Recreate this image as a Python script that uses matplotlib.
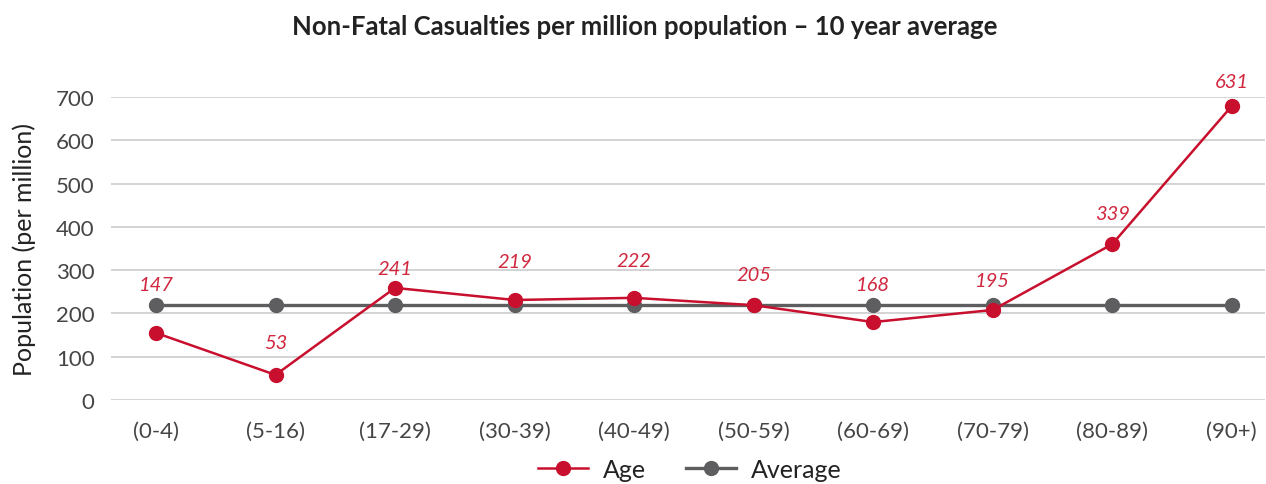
import matplotlib
matplotlib.use("Agg")
import matplotlib.pyplot as plt

plt.rcParams['font.family'] = ['Lato', 'DejaVu Sans']

# age bands and values
age_bands = ['(0-4)', '(5-16)', '(17-29)', '(30-39)', '(40-49)',
             '(50-59)', '(60-69)', '(70-79)', '(80-89)', '(90+)']
age_values = [155, 58, 259, 231, 236, 219, 180, 208, 360, 679]
average_values = [219] * 10
# printed labels (they differ from the plotted points in the original)
age_labels = [147, 53, 241, 219, 222, 205, 168, 195, 339, 631]
label_offsets = [35, 23, 14, 28, 27, 22, 27, 21, 22, 18]

red = '#C8102E'
grey = '#5E5E60'

fig = plt.figure(figsize=(12.66, 4.85), dpi=100)
ax = fig.add_axes([0.0877, 0.1732, 0.9113, 0.6248])

x = list(range(len(age_bands)))
ax.plot(x, average_values, color=grey, lw=2.4, marker='o', ms=10,
        label='Average', zorder=3)
ax.plot(x, age_values, color=red, lw=1.8, marker='o', ms=10,
        label='Age', zorder=4)

for i, lab in enumerate(age_labels):
    ax.annotate(str(lab), (i, age_values[i]), xytext=(0, label_offsets[i]),
                textcoords='offset points', ha='center', va='center',
                color='#D0283E', fontsize=14.5, style='italic')

ax.set_xlim(-0.376, 9.276)
ax.set_ylim(0, 700)
ax.set_yticks(range(0, 701, 100))
ax.set_xticks(x)
ax.set_xticklabels(age_bands)
ax.tick_params(axis='both', length=0, labelsize=16, colors='#454545')
ax.tick_params(axis='x', pad=15)
ax.tick_params(axis='y', pad=12)
ax.grid(axis='y', color='#C8C8C8', lw=1.1)
ax.set_axisbelow(True)
for s in ax.spines.values():
    s.set_visible(False)

ax.set_ylabel('Population (per million)', fontsize=18, color='#222222',
              labelpad=14)

fig.text(0.509, 0.944, 'Non-Fatal Casualties per million population \u2013 10 year average',
         ha='center', va='center', fontsize=18.5, fontweight='bold', color='#222222')

handles, labels = ax.get_legend_handles_labels()
fig.legend(handles[::-1], labels[::-1], loc='center', bbox_to_anchor=(0.545, 0.03),
           ncol=2, frameon=False, fontsize=18, handlelength=2.0,
           columnspacing=1.6, handletextpad=0.6, labelcolor='#222222')

fig.savefig('out.png', dpi=100)
